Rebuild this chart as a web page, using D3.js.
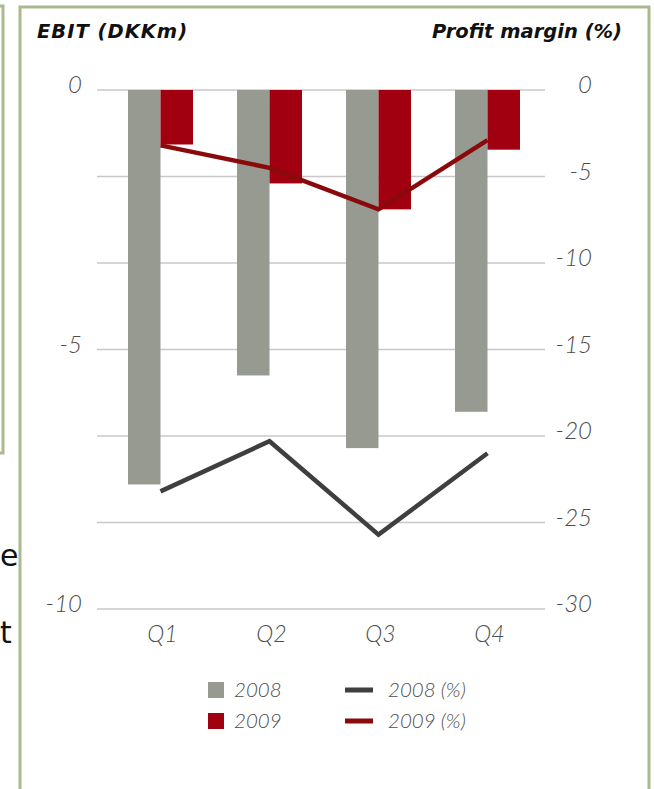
<!DOCTYPE html>
<html><head><meta charset="utf-8">
<script src="https://cdn.jsdelivr.net/npm/d3@7"></script>
<style>html,body{margin:0;padding:0;background:#fff;overflow:hidden}</style>
</head><body>
<svg id="c" width="654" height="789"></svg>
<script>
const categories = ["Q1","Q2","Q3","Q4"];
const ebit2008 = [-7.6, -5.5, -6.9, -6.2];
const ebit2009 = [-1.05, -1.8, -2.3, -1.15];
const margin2008 = [-23.2, -20.3, -25.7, -21.0];
const margin2009 = [-3.2, -4.5, -6.9, -2.9];
const leftTicks = [0, -5, -10];
const rightTicks = [0, -5, -10, -15, -20, -25, -30];
const leftTickLabels = ["0", "-5", "-10"];
const rightTickLabels = ["0", "-5", "-10", "-15", "-20", "-25", "-30"];

const svg = d3.select("#c");
const border = "#aab98e";
const grey = "#979a91", red = "#a0000f", line08 = "#3f3f3f", line09 = "#8a0a0c";
const tickFont = "Lato, 'Open Sans', sans-serif";
const tickColor = "#4d4d4d";

// page frame
svg.append("path").attr("d","M-5,6 H3 V453 H-5").attr("fill","none").attr("stroke",border).attr("stroke-width",3);
svg.append("path").attr("d","M20,800 V7 H649 V800").attr("fill","none").attr("stroke",border).attr("stroke-width",3);
svg.append("text").attr("x",0).attr("y",566).attr("font-family","'DejaVu Sans', sans-serif").attr("font-size",30).attr("fill","#111").text("e");
svg.append("text").attr("x",0).attr("y",643).attr("font-family","'DejaVu Sans', sans-serif").attr("font-size",30).attr("fill","#111").text("t");

const x = d3.scaleBand().domain(categories).range([106, 542]).paddingInner(0).paddingOuter(0);
const yL = d3.scaleLinear().domain([0, -10]).range([90, 609]);
const yR = d3.scaleLinear().domain([0, -30]).range([90, 609]);
const barW = 32.5;

// gridlines
svg.append("g").selectAll("line").data(rightTicks).join("line")
  .attr("x1",97).attr("x2",545).attr("y1",d=>yR(d)).attr("y2",d=>yR(d))
  .attr("stroke","#c8c8c8").attr("stroke-width",1.5);

// titles
svg.append("text").attr("x",37).attr("y",38).attr("font-family","'DejaVu Sans', Verdana, sans-serif")
  .attr("font-weight","bold").attr("font-style","italic").attr("font-size",19.5).attr("letter-spacing",1).attr("fill","#111").text("EBIT (DKKm)");
svg.append("text").attr("x",622).attr("y",38).attr("text-anchor","end").attr("font-family","'DejaVu Sans', Verdana, sans-serif")
  .attr("font-weight","bold").attr("font-style","italic").attr("font-size",19.5).attr("fill","#111").text("Profit margin (%)");

// left axis labels
const axL = d3.axisLeft(yL).tickValues(leftTicks).tickSize(0).tickPadding(0).tickFormat((d,i)=>leftTickLabels[i]);
const gL = svg.append("g").attr("transform","translate(82,0)").call(axL);
gL.select(".domain").remove();
gL.selectAll("text").attr("font-family",tickFont).attr("font-style","italic").attr("font-weight",300)
  .attr("font-size",24).attr("fill",tickColor).attr("dy","0.12em");

// right axis labels
const axR = d3.axisRight(yR).tickValues(rightTicks).tickSize(0).tickPadding(0).tickFormat((d,i)=>rightTickLabels[i]);
const gR = svg.append("g").attr("transform","translate(592,0)").call(axR);
gR.select(".domain").remove();
gR.selectAll("text").attr("text-anchor","end").attr("font-family",tickFont).attr("font-style","italic").attr("font-weight",300)
  .attr("font-size",24).attr("fill",tickColor).attr("dy","0.12em");

// bars
const cx = d => x(d) + x.bandwidth()/2;
svg.append("g").selectAll("rect").data(categories).join("rect")
  .attr("x",d=>cx(d)-barW).attr("width",barW)
  .attr("y",yL(0)).attr("height",(d,i)=>yL(ebit2008[i])-yL(0)).attr("fill",grey);
svg.append("g").selectAll("rect").data(categories).join("rect")
  .attr("x",d=>cx(d)).attr("width",barW)
  .attr("y",yL(0)).attr("height",(d,i)=>yL(ebit2009[i])-yL(0)).attr("fill",red);

// lines
const ln = d3.line().x(d=>cx(d[0])).y(d=>yR(d[1]));
svg.append("path").datum(categories.map((c,i)=>[c,margin2008[i]])).attr("d",ln)
  .attr("fill","none").attr("stroke",line08).attr("stroke-width",4.5).attr("stroke-linejoin","miter");
svg.append("path").datum(categories.map((c,i)=>[c,margin2009[i]])).attr("d",ln)
  .attr("fill","none").attr("stroke",line09).attr("stroke-width",4.5).attr("stroke-linejoin","miter");

// category labels
const axB = d3.axisBottom(x).tickSize(0).tickPadding(0);
const gB = svg.append("g").attr("transform","translate(2,626)").call(axB);
gB.select(".domain").remove();
gB.selectAll("text").attr("font-family",tickFont).attr("font-style","italic").attr("font-weight",300)
  .attr("font-size",23).attr("fill",tickColor);

// legend
const leg = svg.append("g");
const items = [
  {t:"rect", c:grey, label:"2008", x:208, y:690},
  {t:"rect", c:red, label:"2009", x:208, y:721},
  {t:"line", c:line08, label:"2008 (%)", x:345, y:690},
  {t:"line", c:line09, label:"2009 (%)", x:345, y:721}
];
items.forEach(it=>{
  if(it.t==="rect") leg.append("rect").attr("x",it.x).attr("y",it.y-8).attr("width",16).attr("height",16).attr("fill",it.c);
  else leg.append("line").attr("x1",it.x).attr("x2",it.x+28).attr("y1",it.y).attr("y2",it.y).attr("stroke",it.c).attr("stroke-width",5);
  leg.append("text").attr("x",it.t==="rect"?it.x+26:it.x+43).attr("y",it.y+7).attr("font-family",tickFont)
    .attr("font-style","italic").attr("font-weight",300).attr("font-size",20.5).attr("fill",tickColor).text(it.label);
});
</script>
</body></html>
